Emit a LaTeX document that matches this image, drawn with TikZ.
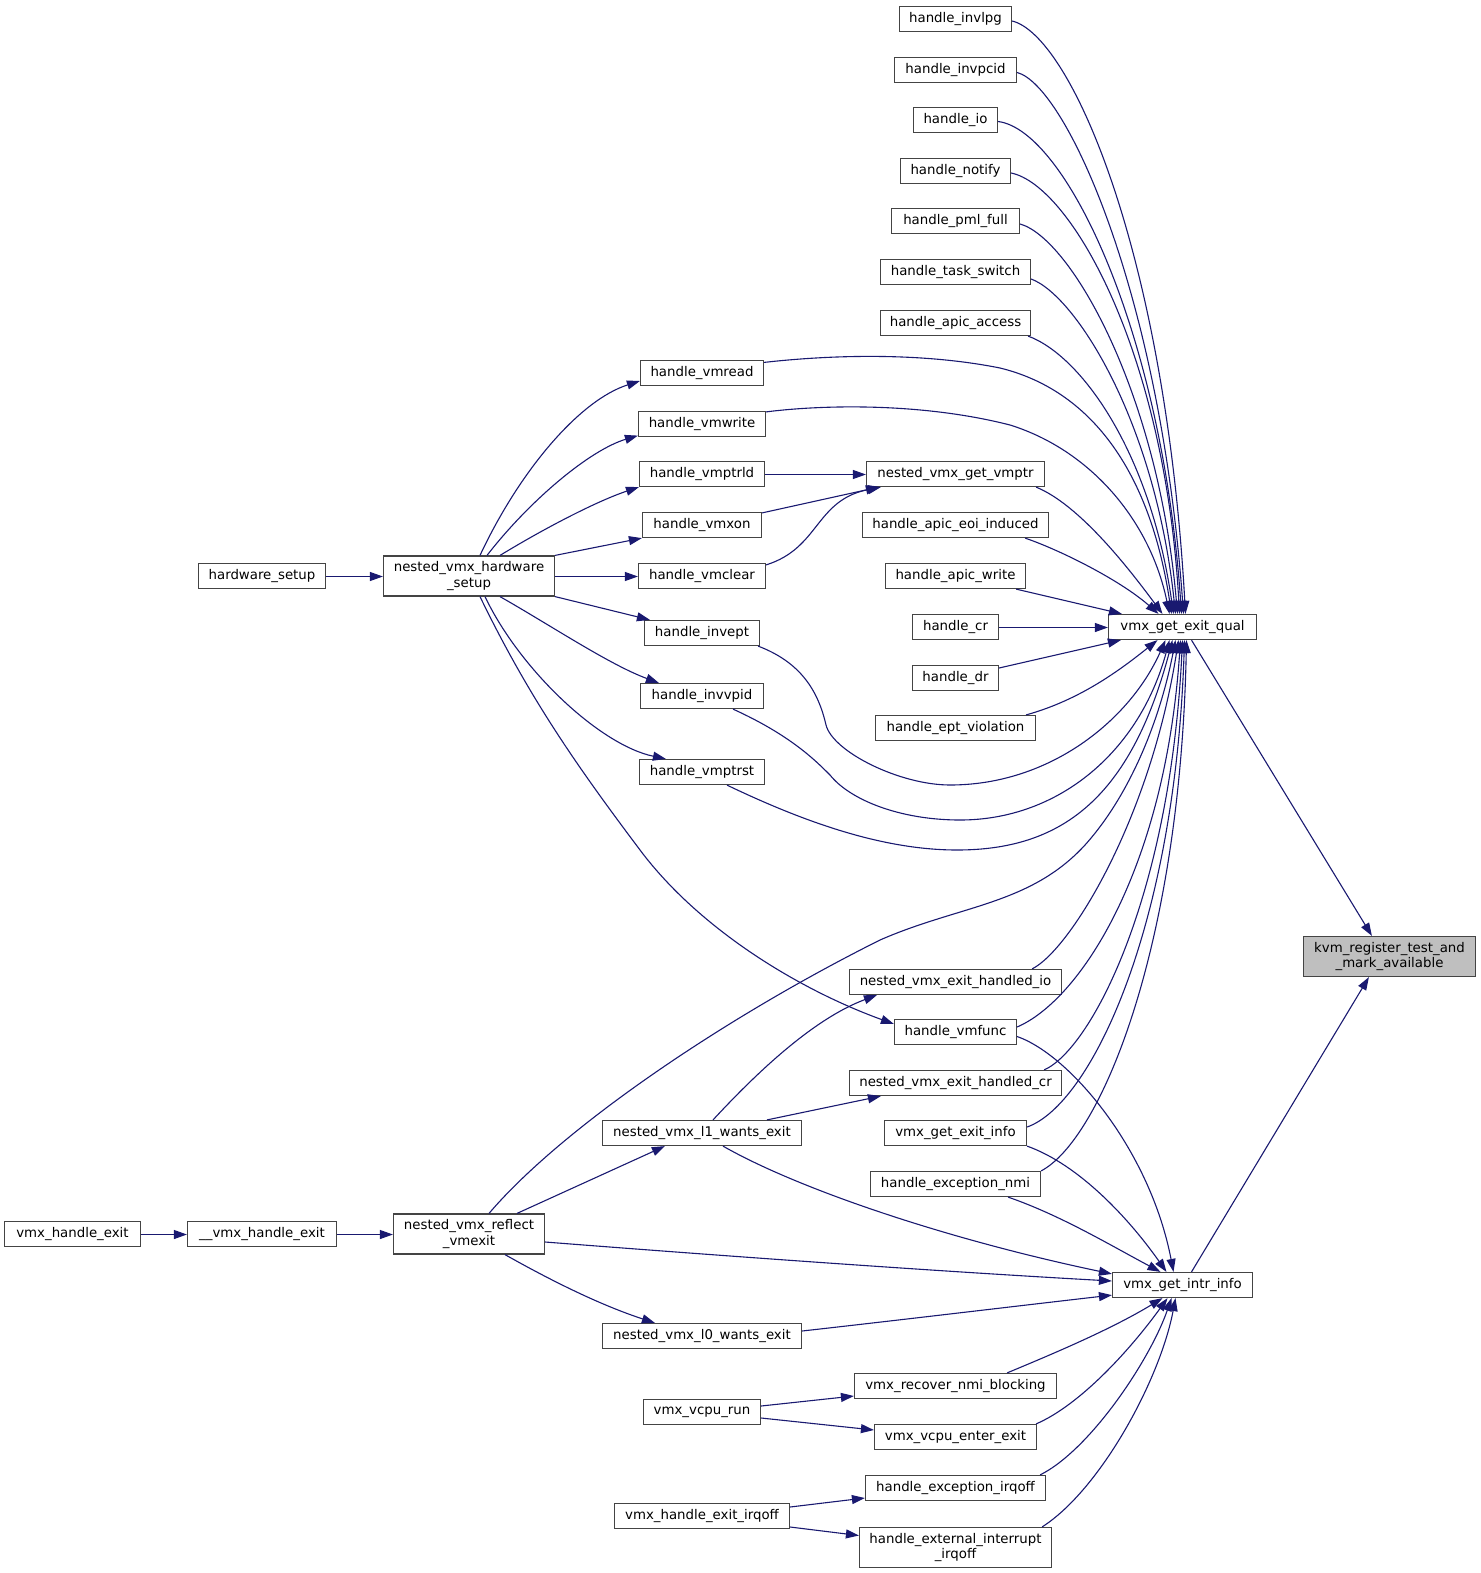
\documentclass[tikz,border=0pt]{standalone}
\usepackage{fontspec}
\setmainfont{DejaVu Sans}
\usetikzlibrary{arrows.meta,calc}
\definecolor{edgeblue}{HTML}{191970}
\definecolor{boxline}{HTML}{444444}
\definecolor{hilite}{HTML}{BFBFBF}
\tikzset{
  fn/.style={draw=boxline, line width=1.2pt, fill=white, inner sep=0pt,
    minimum height=25pt, font=\fontsize{13.33}{15.3}\selectfont, text=black},
  fntwo/.style={fn, minimum height=40pt, align=center},
  call/.style={draw=edgeblue, line width=1.1pt, -{Triangle[length=13pt,width=9pt]}},
}
\begin{document}
\begin{tikzpicture}[x=1pt,y=-1pt]
\useasboundingbox (0,0) rectangle (1480,1573);

% right column
\node[fntwo, fill=hilite, minimum width=172pt] (kvm) at (1389.5,956.5) {kvm\_register\_test\_and\\\_mark\_available};
\node[fn, minimum width=148pt] (eq) at (1182.5,627) {vmx\_get\_exit\_qual};
\node[fn, minimum width=140pt] (ii) at (1182.5,1285) {vmx\_get\_intr\_info};

% middle column
\node[fn, minimum width=112pt] (invlpg) at (955.5,19) {handle\_invlpg};
\node[fn, minimum width=122pt] (invpcid) at (955.5,70) {handle\_invpcid};
\node[fn, minimum width=84pt] (io) at (955.5,120) {handle\_io};
\node[fn, minimum width=110pt] (notify) at (955.5,171) {handle\_notify};
\node[fn, minimum width=128pt] (pml) at (955.5,221) {handle\_pml\_full};
\node[fn, minimum width=150pt] (task) at (955.5,272) {handle\_task\_switch};
\node[fn, minimum width=150pt] (apicaccess) at (955.5,323) {handle\_apic\_access};
\node[fn, minimum width=178pt] (getvmptr) at (955.5,474) {nested\_vmx\_get\_vmptr};
\node[fn, minimum width=186pt] (eoi) at (955.5,525) {handle\_apic\_eoi\_induced};
\node[fn, minimum width=140pt] (apicwrite) at (955.5,576) {handle\_apic\_write};
\node[fn, minimum width=86pt] (cr) at (955.5,627) {handle\_cr};
\node[fn, minimum width=86pt] (dr) at (955.5,678) {handle\_dr};
\node[fn, minimum width=160pt] (ept) at (955.5,728) {handle\_ept\_violation};
\node[fn, minimum width=212pt] (ehio) at (955.5,982) {nested\_vmx\_exit\_handled\_io};
\node[fn, minimum width=122pt] (vmfunc) at (955.5,1032) {handle\_vmfunc};
\node[fn, minimum width=212pt] (ehcr) at (955.5,1083) {nested\_vmx\_exit\_handled\_cr};
\node[fn, minimum width=142pt] (exitinfo) at (955.5,1133) {vmx\_get\_exit\_info};
\node[fn, minimum width=170pt] (excnmi) at (955.5,1184) {handle\_exception\_nmi};
\node[fn, minimum width=202pt] (recover) at (955.5,1386) {vmx\_recover\_nmi\_blocking};
\node[fn, minimum width=162pt] (enterexit) at (955.5,1437) {vmx\_vcpu\_enter\_exit};
\node[fn, minimum width=180pt] (excirqoff) at (955.5,1488) {handle\_exception\_irqoff};
\node[fntwo, minimum width=192pt] (extint) at (955.5,1547.5) {handle\_external\_interrupt\\\_irqoff};

% left-middle column
\node[fn, minimum width=123pt] (vmread) at (702,373) {handle\_vmread};
\node[fn, minimum width=127pt] (vmwrite) at (702,424) {handle\_vmwrite};
\node[fn, minimum width=125pt] (vmptrld) at (702,474) {handle\_vmptrld};
\node[fn, minimum width=119pt] (vmxon) at (702,525) {handle\_vmxon};
\node[fn, minimum width=127pt] (vmclear) at (702,576) {handle\_vmclear};
\node[fn, minimum width=115pt] (invept) at (702,633) {handle\_invept};
\node[fn, minimum width=123pt] (invvpid) at (702,696) {handle\_invvpid};
\node[fn, minimum width=125pt] (vmptrst) at (702,772) {handle\_vmptrst};
\node[fn, minimum width=199pt] (l1) at (702,1133) {nested\_vmx\_l1\_wants\_exit};
\node[fn, minimum width=199pt] (l0) at (702,1336) {nested\_vmx\_l0\_wants\_exit};
\node[fn, minimum width=117pt] (vcpurun) at (702,1412) {vmx\_vcpu\_run};
\node[fn, minimum width=175pt] (exitirqoff) at (702,1516) {vmx\_handle\_exit\_irqoff};

% left
\node[fntwo, minimum width=171pt] (nvhs) at (469,576) {nested\_vmx\_hardware\\\_setup};
\node[fn, minimum width=127pt] (hs) at (262,576) {hardware\_setup};
\node[fntwo, minimum width=151pt] (reflect) at (469,1234) {nested\_vmx\_reflect\\\_vmexit};
\node[fn, minimum width=149pt] (vhetwo) at (262,1234) {\_\_vmx\_handle\_exit};
\node[fn, minimum width=136pt] (vhe) at (72.5,1234) {vmx\_handle\_exit};

% edges into vmx_get_exit_qual from above
\draw[call] ($(invlpg.east)+(0,2)$) .. controls (1070,35) and (1165,250) .. ($(eq.north)+(3,0)$);
\draw[call] ($(invpcid.east)+(0,2.5)$) .. controls (1065,85) and (1160,290) .. ($(eq.north)+(1,0)$);
\draw[call] ($(io.east)+(0,1.5)$) .. controls (1065,130) and (1162,330) .. ($(eq.north)+(-1,0)$);
\draw[call] ($(notify.east)+(0,2)$) .. controls (1070,185) and (1165,350) .. ($(eq.north)+(-3,0)$);
\draw[call] ($(pml.east)+(0,3)$) .. controls (1070,238) and (1158,390) .. ($(eq.north)+(-5,0)$);
\draw[call] ($(task.east)+(0,7)$) .. controls (1075,295) and (1155,420) .. ($(eq.north)+(-7,0)$);
\draw[call] ($(apicaccess.south east)+(-3,0)$) .. controls (1080,355) and (1150,450) .. ($(eq.north)+(-9,0)$);
\draw[call] ($(vmread.north east)+(0,2.5)$) .. controls (830,355) and (920,352) .. (1000,368)
   .. controls (1090,390) and (1150,470) .. ($(eq.north)+(-11,0)$);
\draw[call] ($(vmwrite.north east)+(0,1)$) .. controls (820,405) and (920,402) .. (1010,425)
   .. controls (1090,450) and (1150,520) .. ($(eq.north)+(-13,0)$);
\draw[call] ($(getvmptr.south east)+(-9,0)$) .. controls (1080,505) and (1130,570) .. ($(eq.north)+(-20,0)$);
\draw[call] ($(eoi.south east)+(-24,0)$) .. controls (1060,550) and (1120,580) .. ($(eq.north)+(-24,0)$);
\draw[call] ($(apicwrite.south east)+(-10,0)$) -- ($(eq.north west)+(14,0)$);
\draw[call] ($(cr.east)+(0,0.5)$) -- ($(eq.west)+(0,0.5)$);
\draw[call] ($(dr.east)+(0,-10)$) -- ($(eq.south west)+(13,0)$);
\draw[call] ($(ept.north east)+(-10,0)$) .. controls (1080,700) and (1120,670) .. ($(eq.south)+(-25,0)$);

% edges into vmx_get_exit_qual from below
\draw[call] ($(invept.south east)+(-2,0)$) .. controls (800,662) and (818,690) .. (826,725)
   .. controls (833,752) and (900,785) .. (950,785)
   .. controls (1050,785) and (1130,720) .. ($(eq.south)+(-17,0)$);
\draw[call] ($(invvpid.south)+(31,0)$) .. controls (790,735) and (815,760) .. (830,775)
   .. controls (850,800) and (900,820) .. (960,820)
   .. controls (1060,820) and (1140,750) .. ($(eq.south)+(-13,0)$);
\draw[call] ($(vmptrst.south)+(25,0)$) .. controls (800,820) and (880,850) .. (957,850)
   .. controls (1060,850) and (1130,800) .. ($(eq.south)+(-10,0)$);
\draw[call] ($(reflect.north)+(20,0)$) .. controls (560,1130) and (720,1020) .. (880,940)
   .. controls (960,905) and (1030,905) .. (1085,845)
   .. controls (1130,795) and (1160,720) .. ($(eq.south)+(-7,0)$);
\draw[call] ($(ehio.north east)+(-30,0)$) .. controls (1070,950) and (1150,820) .. ($(eq.south)+(-4,0)$);
\draw[call] ($(vmfunc.east)+(0,-5)$) .. controls (1080,1000) and (1165,870) .. ($(eq.south)+(-2,0)$);
\draw[call] ($(ehcr.north east)+(-18,0)$) .. controls (1090,1050) and (1170,900) .. (eq.south);
\draw[call] ($(exitinfo.east)+(0,-6)$) .. controls (1090,1105) and (1175,930) .. ($(eq.south)+(2,0)$);
\draw[call] (excnmi.north east) .. controls (1100,1140) and (1180,950) .. ($(eq.south)+(4,0)$);

% edges into vmx_get_intr_info
\draw[call] ($(vmfunc.east)+(0,4.5)$) .. controls (1070,1055) and (1150,1150) .. ($(ii.north)+(-9,0)$);
\draw[call] (exitinfo.south east) .. controls (1080,1165) and (1130,1220) .. ($(ii.north)+(-16,0)$);
\draw[call] ($(excnmi.south east)+(-33,0)$) .. controls (1060,1215) and (1110,1245) .. ($(ii.north)+(-22,0)$);
\draw[call] ($(l1.south)+(21,0)$) .. controls (800,1190) and (950,1240) .. ($(ii.north west)+(0,2)$);
\draw[call] ($(reflect.east)+(0,8)$) .. controls (750,1258) and (950,1272) .. ($(ii.west)+(0,-4)$);
\draw[call] ($(l0.east)+(0,-5)$) .. controls (900,1320) and (1000,1308) .. ($(ii.south west)+(0,-3)$);
\draw[call] ($(recover.north east)+(-50,0)$) .. controls (1050,1355) and (1110,1330) .. ($(ii.south)+(-20,0)$);
\draw[call] ($(enterexit.north east)+(-1,0)$) .. controls (1080,1405) and (1130,1350) .. ($(ii.south)+(-15,0)$);
\draw[call] ($(excirqoff.north east)+(-6,0)$) .. controls (1090,1450) and (1150,1360) .. ($(ii.south)+(-11,0)$);
\draw[call] ($(extint.north east)+(-10,0)$) .. controls (1100,1490) and (1160,1380) .. ($(ii.south)+(-7,0)$);

% nested_vmx_hardware_setup fan
\draw[call] ($(hs.east)+(0,0.5)$) -- ($(nvhs.west)+(0,0.5)$);
\draw[call] ($(nvhs.north)+(11,0)$) .. controls (520,470) and (580,400) .. ($(vmread.west)+(0,8)$);
\draw[call] ($(nvhs.north)+(18,0)$) .. controls (530,500) and (590,450) .. ($(vmwrite.south west)+(0,-1.5)$);
\draw[call] ($(nvhs.north)+(31,0)$) .. controls (550,525) and (600,500) .. (vmptrld.south west);
\draw[call] (nvhs.north east) -- (vmxon.south west);
\draw[call] ($(nvhs.east)+(0,0.5)$) -- ($(vmclear.west)+(0,0.5)$);
\draw[call] (nvhs.south east) -- ($(invept.north west)+(6,0)$);
\draw[call] ($(nvhs.south)+(31,0)$) .. controls (550,625) and (610,665) .. ($(invvpid.north west)+(19,0)$);
\draw[call] ($(nvhs.south)+(16,0)$) .. controls (520,670) and (600,745) .. ($(vmptrst.north west)+(27,0)$);
\draw[call] ($(nvhs.south)+(11,0)$) .. controls (530,700) and (580,770) .. (640,850)
   .. controls (700,930) and (800,990) .. ($(vmfunc.west)+(0,-8)$);

% nested_vmx_get_vmptr
\draw[call] ($(vmptrld.east)+(0,0.5)$) -- ($(getvmptr.west)+(0,0.5)$);
\draw[call] ($(vmxon.north east)+(0,1)$) -- ($(getvmptr.south west)+(13,0)$);
\draw[call] ($(vmclear.north east)+(0,2)$) .. controls (820,548) and (815,500) .. ($(getvmptr.south west)+(15,0)$);

% lower left
\draw[call] ($(l1.north)+(11,0)$) .. controls (750,1080) and (810,1020) .. ($(ehio.south west)+(28,0)$);
\draw[call] ($(l1.north)+(65,0)$) -- ($(ehcr.south west)+(32,0)$);
\draw[call] ($(reflect.north)+(48,0)$) -- ($(l1.south west)+(63,0)$);
\draw[call] ($(reflect.south)+(36,0)$) .. controls (550,1280) and (600,1305) .. ($(l0.north west)+(53,0)$);
\draw[call] ($(vhetwo.east)+(0,0.5)$) -- ($(reflect.west)+(0,0.5)$);
\draw[call] ($(vhe.east)+(0,0.5)$) -- ($(vhetwo.west)+(0,0.5)$);
\draw[call] ($(vcpurun.east)+(0,-6)$) -- ($(recover.west)+(0,10)$);
\draw[call] ($(vcpurun.east)+(0,6)$) -- ($(enterexit.west)+(0,-7)$);
\draw[call] ($(exitirqoff.east)+(0,-9)$) -- ($(excirqoff.west)+(0,10)$);
\draw[call] ($(exitirqoff.east)+(0,11)$) -- ($(extint.west)+(0,-12)$);

% into kvm_register_test_and_mark_available
\draw[call] ($(eq.south)+(9,0)$) -- ($(kvm.north west)+(69,0)$);
\draw[call] ($(ii.north)+(9,0)$) -- ($(kvm.south west)+(66,0)$);
\end{tikzpicture}
\end{document}
